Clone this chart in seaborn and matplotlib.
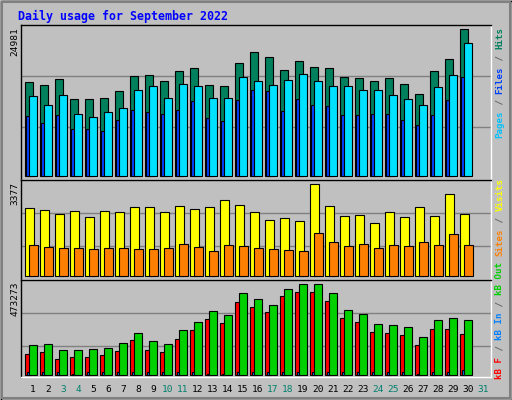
import matplotlib
matplotlib.use("Agg")
import matplotlib.pyplot as plt
import seaborn as sns
import numpy as np
import pandas as pd
from matplotlib.patches import Rectangle

days = list(range(1, 31))
day_labels = [str(d) for d in range(1, 32)]
weekend = [3, 4, 10, 11, 17, 18, 24, 25, 31]

hits = [15954,15443,16466,13058,13058,13228,14421,16976,17146,16124,17827,18338,15443,15272,19190,
        21064,20212,17998,19531,18509,18338,16805,16635,16124,16635,15613,13910,17827,19871,24981]
files = [13569,12036,13740,10503,9992,10844,11525,14591,15272,13228,15613,15272,13228,13228,16805,
         16124,15443,16294,17316,16124,15272,15272,14591,14591,13740,13058,12036,15102,17146,22596]
pages = [10163,8970,10333,7949,7949,7608,9481,11185,10844,10503,11185,12718,9822,9311,12888,
         14591,14421,11014,13058,12036,11866,10333,10333,10503,10503,9481,8630,10333,12888,16805]
visits = [2496,2423,2276,2386,2166,2386,2349,2533,2533,2349,2569,2459,2533,2790,2606,
          2349,2055,2129,2019,3377,2569,2202,2239,1945,2349,2166,2533,2202,3010,2276]
sites = [1138,1064,1028,1028,991,1028,1028,991,991,1028,1175,1064,918,1138,1101,
         1028,991,954,918,1578,1248,1101,1175,1028,1138,1101,1248,1138,1542,1138]
kb_f = [109217,119618,83213,93614,93614,104016,124819,182028,130020,119618,187229,234036,291245,270442,379658,
        353654,327650,410863,431666,431666,384859,296446,275642,223634,218434,208032,156024,239237,239237,213233]
kb_in = [15600,15600,15600,9000,15600,15600,15600,15600,15600,15600,15600,15600,9000,9000,15600,
         15600,15600,15600,15600,15600,15600,15600,15600,15600,15600,15600,9000,15600,19000,26000]
kb_out = [156024,161225,130020,130020,135221,140422,166426,218434,176827,161225,234036,275642,332851,312048,426466,
          395261,364056,447269,473273,473273,426466,338052,317249,265241,260040,249638,197630,286044,296446,286044]

W, H = 512, 400
BG = "#C0C0C0"
sns.set_style("white")
plt.rcParams["font.family"] = ["DejaVu Sans Mono", "DejaVu Sans"]

fig = plt.figure(figsize=(W / 100, H / 100), dpi=100, facecolor=BG)

def frac(x0, y0, x1, y1):
    return [x0 / W, 1 - y1 / H, (x1 - x0) / W, (y1 - y0) / H]

# figure bevel border
fig.patches.append(Rectangle((0.5 / W, 0.5 / H), (W - 1) / W, (H - 1) / H, transform=fig.transFigure,
                             fill=False, edgecolor="black", lw=1))
fig.patches.append(Rectangle((2 / W, 2 / H), (W - 4) / W, (H - 4) / H, transform=fig.transFigure,
                             fill=False, edgecolor="#808080", lw=1.5))

fig.text(18 / W, 1 - 16 / H, "Daily usage for September 2022", color="#0000FF", fontsize=8.4,
         fontweight="bold", va="center", ha="left")

XL = (1 - 4 / 15, 31 + 15.7 / 15)

def panel(rect, ylim, grids):
    ax = fig.add_axes(rect)
    ax.set_facecolor(BG)
    ax.set_xlim(*XL)
    for g in grids:
        ax.axhline(g, color="#808080", lw=1, zorder=0)
    for s in ["top", "left"]:
        ax.spines[s].set_color("black")
    for s in ["right", "bottom"]:
        ax.spines[s].set_color("white")
    for s in ax.spines.values():
        s.set_linewidth(1)
    return ax

def bars(ax, vals, offset, width, color):
    x = np.array(days) + offset + width / 2
    df = pd.DataFrame({"x": x, "y": vals})
    sns.barplot(data=df, x="x", y="y", native_scale=True, width=width, color=color, saturation=1,
                edgecolor="black", linewidth=0.8, errorbar=None, ax=ax, zorder=2)

def finish(ax, ylim, maxlabel, top_px):
    ax.set_xlim(*XL)
    ax.set_ylim(*ylim)
    ax.set_xticks([]); ax.set_yticks([])
    ax.set_xlabel(""); ax.set_ylabel("")
    fig.text(15 / W, 1 - (top_px + 2) / H, maxlabel, rotation=90, fontsize=6.8, va="top", ha="center",
             color="black")

def side_label(pieces, top_px):
    cw = 5.55
    L = sum(len(t) for t, _ in pieces)
    bottom = top_px + L * cw
    i = 0
    for t, c in pieces:
        fig.text(500 / W, 1 - (bottom - i * cw) / H, t, rotation=90, fontsize=6.6, color=c,
                 va="bottom", ha="center", fontweight="bold")
        i += len(t)

# top panel
ax1 = panel(frac(21, 25, 490.7, 180), None, [16978, 8293])
bars(ax1, hits, 0.0, 0.51, "#00805C")
bars(ax1, pages, 0.09, 0.22, "#0040FF")
bars(ax1, files, 0.29, 0.51, "#00E0FF")
finish(ax1, (-681, 25713), "24981", 25)
side_label([("Pages", "#00C0FF"), (" / ", "#606060"), ("Files", "#0040FF"), (" / ", "#606060"),
            ("Hits", "#00805C")], 27)

# middle panel
ax2 = panel(frac(21, 180, 490.7, 280), None, [2312, 1101])
bars(ax2, visits, 0.0, 0.58, "#FFFF00")
bars(ax2, sites, 0.27, 0.58, "#FF8000")
finish(ax2, (-136, 3535), "3377", 180)
side_label([("Sites", "#FF8000"), (" / ", "#606060"), ("Visits", "#FFFF00")], 178)

# bottom panel
ax3 = panel(frac(21, 280, 490.7, 377), None, [322447, 150823])
bars(ax3, kb_f, 0.0, 0.38, "#FF0000")
bars(ax3, kb_in, 0.16, 0.13, "#0080FF")
bars(ax3, kb_out, 0.27, 0.51, "#00D000")
finish(ax3, (-8842, 495635), "473273", 280)
side_label([("kB F", "#FF0000"), (" / ", "#606060"), ("kB In", "#0080FF"), (" / ", "#606060"),
            ("kB Out", "#00D000")], 262)

for i, lab in enumerate(day_labels):
    d = i + 1
    xpx = 21 + (d + 0.53 - XL[0]) / (XL[1] - XL[0]) * (490.7 - 21)
    fig.text(xpx / W, 1 - 389 / H, lab, fontsize=6.8, ha="center", va="center",
             color="#00806C" if d in weekend else "black")

fig.savefig("out.png", dpi=100, facecolor=BG)
